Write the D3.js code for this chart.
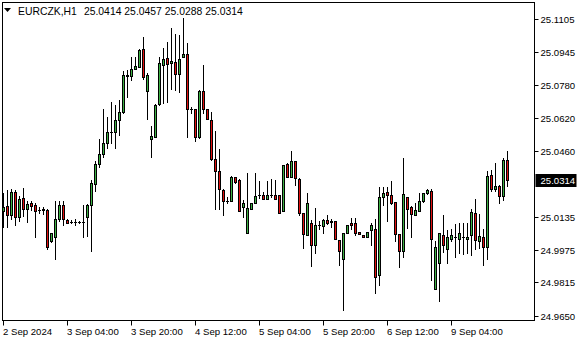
<!DOCTYPE html>
<html>
<head>
<meta charset="utf-8">
<script src="https://cdn.jsdelivr.net/npm/d3@7"></script>
<style>
  html, body { margin: 0; padding: 0; background: #fff; }
  svg { display: block; font-family: "Liberation Sans", Arial, sans-serif; font-size: 9.6px; }
</style>
</head>
<body>
<div id="chart"></div>
<script>
// EURCZK H1, 127 bars starting 2 Sep 2024 12:00
const symbol = "EURCZK,H1";
const timeLabels = ["2 Sep 2024", "3 Sep 04:00", "3 Sep 20:00", "4 Sep 12:00", "5 Sep 04:00", "5 Sep 20:00", "6 Sep 12:00", "9 Sep 04:00"];
const timeLabelBars = [0, 16, 32, 48, 64, 80, 96, 112];
const priceTicks = [25.1105, 25.0945, 25.0780, 25.0620, 25.0460, 25.0135, 24.9975, 24.9815, 24.9650];

const opens = [
  25.0164, 25.0189, 25.0145, 25.0257, 25.0135, 25.0228, 25.0174, 25.0203, 25.0194, 25.0169,
  25.0174, 25.0169, 25.0017, 25.0037, 25.0125, 25.0194, 25.0120, 25.0110, 25.0110, 25.0110,
  25.0110, 25.0135, 25.0194, 25.0296, 25.0394, 25.0443, 25.0497, 25.0551, 25.0551, 25.0610,
  25.0649, 25.0826, 25.0826, 25.0860, 25.0870, 25.0958, 25.0752, 25.0517, 25.0527, 25.0688,
  25.0880, 25.0914, 25.0889, 25.0894, 25.0835, 25.0919, 25.0933, 25.0664, 25.0664, 25.0527,
  25.0752, 25.0664, 25.0610, 25.0419, 25.0360, 25.0267, 25.0213, 25.0213, 25.0331, 25.0316,
  25.0184, 25.0056, 25.0174, 25.0203, 25.0243, 25.0243, 25.0223, 25.0243, 25.0243, 25.0243,
  25.0164, 25.0394, 25.0331, 25.0409, 25.0321, 25.0154, 25.0047, 25.0105, 24.9998, 25.0096,
  25.0091, 25.0120, 25.0115, 25.0115, 25.0022, 24.9929, 25.0056, 25.0105, 25.0105, 25.0061,
  25.0047, 25.0037, 25.0071, 25.0076, 24.9851, 25.0233, 25.0257, 25.0243, 25.0208, 25.0051,
  24.9968, 25.0233, 25.0184, 25.0145, 25.0164, 25.0213, 25.0252, 25.0262, 24.9782, 24.9909,
  25.0047, 24.9978, 25.0027, 25.0037, 25.0027, 25.0037, 25.0027, 25.0047, 25.0154, 25.0017,
  25.0037, 24.9988, 25.0341, 25.0272, 25.0287, 25.0238, 25.0414
];
const highs = [
  25.0252, 25.0267, 25.0272, 25.0267, 25.0238, 25.0277, 25.0213, 25.0213, 25.0203, 25.0184,
  25.0184, 25.0174, 25.0056, 25.0213, 25.0213, 25.0213, 25.0125, 25.0120, 25.0125, 25.0115,
  25.0194, 25.0198, 25.0316, 25.0409, 25.0517, 25.0664, 25.0625, 25.0698, 25.0684, 25.0708,
  25.0850, 25.0855, 25.0919, 25.0919, 25.0958, 25.1017, 25.0840, 25.0581, 25.0688, 25.0919,
  25.0963, 25.0992, 25.1061, 25.1031, 25.1027, 25.1110, 25.0987, 25.0674, 25.0664, 25.0757,
  25.0880, 25.0664, 25.0649, 25.0556, 25.0468, 25.0272, 25.0233, 25.0336, 25.0331, 25.0321,
  25.0218, 25.0350, 25.0203, 25.0350, 25.0311, 25.0257, 25.0311, 25.0321, 25.0316, 25.0243,
  25.0390, 25.0399, 25.0458, 25.0409, 25.0326, 25.0154, 25.0252, 25.0120, 25.0179, 25.0115,
  25.0125, 25.0145, 25.0125, 25.0115, 25.0022, 25.0056, 25.0096, 25.0130, 25.0130, 25.0061,
  25.0047, 25.0061, 25.0105, 25.0125, 25.0282, 25.0282, 25.0282, 25.0311, 25.0208, 25.0051,
  25.0424, 25.0233, 25.0189, 25.0203, 25.0252, 25.0252, 25.0272, 25.0272, 25.0017, 25.0056,
  25.0145, 25.0071, 25.0076, 25.0100, 25.0105, 25.0105, 25.0105, 25.0174, 25.0223, 25.0149,
  25.0076, 25.0360, 25.0365, 25.0399, 25.0292, 25.0424, 25.0457
];
const lows = [
  25.0086, 25.0086, 25.0125, 25.0096, 25.0115, 25.0140, 25.0110, 25.0169, 25.0037, 25.0154,
  25.0149, 24.9978, 25.0012, 24.9929, 25.0115, 25.0096, 25.0105, 25.0105, 25.0096, 25.0105,
  25.0037, 25.0042, 24.9968, 25.0262, 25.0380, 25.0429, 25.0473, 25.0497, 25.0473, 25.0537,
  25.0644, 25.0723, 25.0806, 25.0860, 25.0870, 25.0811, 25.0615, 25.0429, 25.0527, 25.0684,
  25.0693, 25.0698, 25.0762, 25.0757, 25.0747, 25.0919, 25.0527, 25.0644, 25.0507, 25.0522,
  25.0644, 25.0615, 25.0414, 25.0174, 25.0174, 25.0145, 25.0203, 25.0213, 25.0301, 25.0164,
  25.0135, 25.0056, 25.0174, 25.0203, 25.0228, 25.0223, 25.0223, 25.0233, 25.0223, 25.0154,
  25.0164, 25.0331, 25.0331, 25.0292, 25.0145, 24.9983, 25.0047, 24.9895, 24.9958, 25.0076,
  25.0056, 25.0100, 25.0086, 25.0027, 24.9900, 24.9679, 25.0056, 25.0076, 25.0047, 25.0051,
  25.0037, 25.0037, 24.9998, 24.9762, 24.9802, 25.0194, 25.0115, 25.0198, 25.0017, 24.9890,
  24.9939, 25.0081, 25.0037, 25.0145, 25.0164, 25.0208, 25.0247, 24.9826, 24.9782, 24.9723,
  24.9963, 24.9909, 25.0017, 24.9939, 24.9958, 24.9953, 24.9958, 24.9949, 24.9978, 24.9983,
  24.9900, 24.9929, 25.0262, 25.0262, 25.0203, 25.0218, 25.0288
];
const closes = [
  25.0184, 25.0145, 25.0257, 25.0135, 25.0223, 25.0174, 25.0198, 25.0189, 25.0164, 25.0169,
  25.0169, 24.9988, 25.0056, 25.0125, 25.0194, 25.0125, 25.0105, 25.0110, 25.0110, 25.0110,
  25.0110, 25.0194, 25.0301, 25.0394, 25.0443, 25.0497, 25.0551, 25.0551, 25.0610, 25.0649,
  25.0831, 25.0831, 25.0860, 25.0875, 25.0953, 25.0821, 25.0831, 25.0532, 25.0684, 25.0889,
  25.0909, 25.0884, 25.0899, 25.0835, 25.0909, 25.0933, 25.0664, 25.0664, 25.0527, 25.0752,
  25.0664, 25.0615, 25.0419, 25.0360, 25.0272, 25.0213, 25.0213, 25.0331, 25.0306, 25.0164,
  25.0203, 25.0179, 25.0203, 25.0238, 25.0243, 25.0223, 25.0243, 25.0243, 25.0223, 25.0154,
  25.0390, 25.0331, 25.0409, 25.0326, 25.0154, 25.0051, 25.0203, 24.9998, 25.0096, 25.0096,
  25.0120, 25.0105, 25.0110, 25.0027, 24.9968, 25.0056, 25.0096, 25.0096, 25.0056, 25.0051,
  25.0037, 25.0061, 25.0096, 24.9841, 25.0233, 25.0252, 25.0243, 25.0203, 25.0051, 24.9968,
  25.0247, 25.0174, 25.0149, 25.0169, 25.0213, 25.0252, 25.0267, 25.0027, 24.9988, 25.0056,
  24.9998, 25.0037, 25.0047, 25.0037, 25.0056, 25.0037, 25.0037, 25.0159, 25.0022, 25.0042,
  24.9988, 25.0336, 25.0272, 25.0287, 25.0238, 25.0414, 25.0314
];

const width = 580, height = 340;
const frame = { left: 2.5, top: 2.5, right: 534.5, bottom: 320.5 };
const bullColor = "#3cb043";
const bearColor = "#e01010";

const bars = opens.map((o, i) => ({ i, o, h: highs[i], l: lows[i], c: closes[i] }));

// one bar every 4px
const x = d3.scaleLinear().domain([0, 1]).range([3, 7]);
const y = d3.scaleLinear().domain([24.9650, 25.1105]).range([316, 19]);
const py = v => Math.round(y(v)) + 0.5;

const svg = d3.select("#chart").append("svg")
    .attr("width", width)
    .attr("height", height);

svg.append("rect").attr("width", width).attr("height", height).attr("fill", "#fff");

svg.append("defs").append("clipPath").attr("id", "plotClip")
    .append("rect")
    .attr("x", frame.left).attr("y", frame.top)
    .attr("width", frame.right - frame.left).attr("height", frame.bottom - frame.top);

const plotG = svg.append("g").attr("clip-path", "url(#plotClip)");

const candle = plotG.selectAll("g.candle")
    .data(bars)
    .enter()
    .append("g")
    .classed("candle", true);

// wicks
candle.append("line")
    .attr("x1", d => Math.round(x(d.i)) + 0.5)
    .attr("x2", d => Math.round(x(d.i)) + 0.5)
    .attr("y1", d => py(d.h) - 0.5)
    .attr("y2", d => py(d.l) + 0.5)
    .attr("stroke", "#000")
    .attr("stroke-width", 1);

// bodies
candle.filter(d => py(d.o) !== py(d.c))
    .append("rect")
    .attr("x", d => Math.round(x(d.i)) - 0.5)
    .attr("y", d => py(Math.max(d.o, d.c)))
    .attr("width", 2)
    .attr("height", d => py(Math.min(d.o, d.c)) - py(Math.max(d.o, d.c)))
    .attr("fill", d => d.c > d.o ? bullColor : bearColor)
    .attr("stroke", "#000")
    .attr("stroke-width", 1);

// doji: flat line
candle.filter(d => py(d.o) === py(d.c))
    .append("line")
    .attr("x1", d => Math.round(x(d.i)) - 1)
    .attr("x2", d => Math.round(x(d.i)) + 2)
    .attr("y1", d => py(d.c))
    .attr("y2", d => py(d.c))
    .attr("stroke", "#000")
    .attr("stroke-width", 1);

// frame
svg.append("rect")
    .attr("x", frame.left).attr("y", frame.top)
    .attr("width", frame.right - frame.left).attr("height", frame.bottom - frame.top)
    .attr("fill", "none")
    .attr("stroke", "#000");

// price axis
const priceAxis = svg.append("g");
priceAxis.selectAll("line")
    .data(priceTicks)
    .enter()
    .append("line")
    .attr("x1", frame.right).attr("x2", frame.right + 4)
    .attr("y1", d => py(d)).attr("y2", d => py(d))
    .attr("stroke", "#000");
priceAxis.selectAll("text")
    .data(priceTicks)
    .enter()
    .append("text")
    .attr("x", frame.right + 6)
    .attr("y", d => py(d))
    .attr("dy", "0.35em")
    .attr("fill", "#000")
    .text(d => d.toFixed(4));

// current price marker
const last = bars[bars.length - 1];
svg.append("rect")
    .attr("x", frame.right + 1)
    .attr("y", Math.round(y(last.c)) - 6)
    .attr("width", 41)
    .attr("height", 13)
    .attr("fill", "#000");
svg.append("text")
    .attr("x", frame.right + 6)
    .attr("y", py(last.c))
    .attr("dy", "0.35em")
    .attr("fill", "#fff")
    .text(last.c.toFixed(4));

// time axis
const timeAxis = svg.append("g");
timeAxis.selectAll("line")
    .data(timeLabelBars)
    .enter()
    .append("line")
    .attr("x1", d => Math.round(x(d)) + 0.5).attr("x2", d => Math.round(x(d)) + 0.5)
    .attr("y1", frame.bottom).attr("y2", frame.bottom + 5)
    .attr("stroke", "#000");
timeAxis.selectAll("text")
    .data(timeLabels)
    .enter()
    .append("text")
    .attr("x", (d, i) => Math.round(x(timeLabelBars[i])))
    .attr("y", 335)
    .attr("fill", "#000")
    .text(d => d);

// header
svg.append("path")
    .attr("d", "M4,8 L11,8 L7.5,12 Z")
    .attr("fill", "#000");
const header = svg.append("text")
    .attr("x", 18)
    .attr("y", 15)
    .attr("fill", "#000")
    .style("font-size", "10.4px");
header.append("tspan").text(symbol);
header.append("tspan")
    .attr("dx", 7)
    .text(`${last.o.toFixed(4)} ${last.h.toFixed(4)} ${last.l.toFixed(4)} ${last.c.toFixed(4)}`);
</script>
</body>
</html>
